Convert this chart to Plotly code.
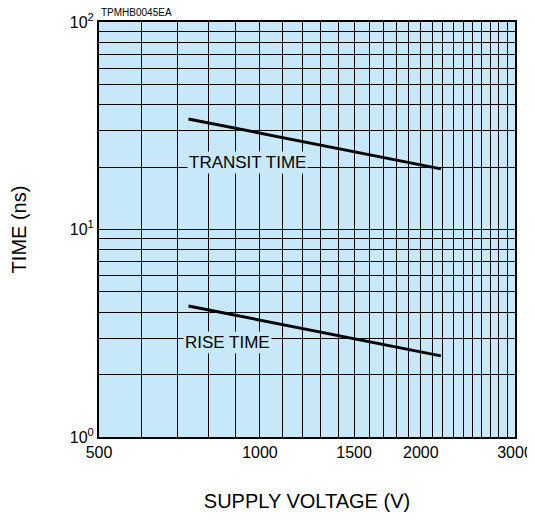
import math
import plotly.graph_objects as go

# Data
voltage = [735, 1200, 2180]
transit_time = [34.1, 26.6, 19.6]
rise_time = [4.28, 3.33, 2.46]

x_tick_vals = [500, 1000, 1500, 2000, 3000]
x_tick_text = ["500", "1000", "1500", "2000", "3000"]
x_grid_vals = list(range(600, 3000, 100))
y_tick_vals = [1, 10, 100]
y_tick_text = ["10<sup>0</sup>", "10<sup>1</sup>", "10<sup>2</sup>"]
y_grid_vals = [2, 3, 4, 5, 6, 7, 8, 9, 20, 30, 40, 50, 60, 70, 80, 90]

label_transit = ("TRANSIT TIME", 946, 21.1)
label_rise = ("RISE TIME", 871, 2.84)

BG = "#C6E8F8"
FONT = "Liberation Sans, Arial, sans-serif"

fig = go.Figure()
fig.add_trace(go.Scatter(x=voltage, y=transit_time, mode="lines",
                         line=dict(color="black", width=3), showlegend=False))
fig.add_trace(go.Scatter(x=voltage, y=rise_time, mode="lines",
                         line=dict(color="black", width=3), showlegend=False))

for txt, xv, yv in (label_transit, label_rise):
    fig.add_annotation(x=math.log10(xv), y=math.log10(yv), text=txt, showarrow=False,
                       font=dict(family=FONT, size=17, color="black"),
                       bgcolor=BG, borderpad=1)

fig.add_annotation(x=0, y=1, xref="paper", yref="paper", xanchor="left", yanchor="bottom",
                   yshift=2, text="TPMHB0045EA", showarrow=False,
                   font=dict(family=FONT, size=10, color="black"))

fig.update_xaxes(type="log", range=[math.log10(500), math.log10(3000)],
                 tickmode="array", tickvals=x_tick_vals, ticktext=x_tick_text,
                 ticklabeloverflow="allow",
                 showgrid=True, gridcolor="black", gridwidth=1,
                 minor=dict(tickmode="array", tickvals=x_grid_vals, showgrid=True,
                            gridcolor="black", gridwidth=1, ticks=""),
                 showline=True, linecolor="black", linewidth=2, mirror=True,
                 ticks="", zeroline=False, automargin=False,
                 tickfont=dict(family=FONT, size=16, color="black"),
                 title=dict(text="SUPPLY VOLTAGE (V)", standoff=36,
                            font=dict(family=FONT, size=20, color="black")))
fig.update_yaxes(type="log", range=[0, 2],
                 tickmode="array", tickvals=y_tick_vals, ticktext=y_tick_text,
                 showgrid=True, gridcolor="black", gridwidth=1,
                 minor=dict(tickmode="array", tickvals=y_grid_vals, showgrid=True,
                            gridcolor="black", gridwidth=1, ticks=""),
                 showline=True, linecolor="black", linewidth=2, mirror=True,
                 ticks="", zeroline=False, automargin=False,
                 tickfont=dict(family=FONT, size=16, color="black"),
                 title=dict(text="TIME (ns)", standoff=42,
                            font=dict(family=FONT, size=20, color="black")))

fig.update_layout(width=527, height=504, paper_bgcolor="white", plot_bgcolor=BG,
                  margin=dict(l=91, r=20, t=14, b=75), showlegend=False,
                  font=dict(family=FONT, color="black"))

fig.write_html("out.html")
